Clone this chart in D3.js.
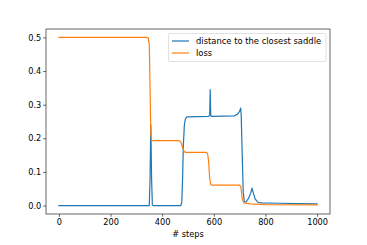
<!DOCTYPE html>
<html>
<head>
<meta charset="utf-8">
<script src="https://cdn.jsdelivr.net/npm/d3@7"></script>
<style>
  body { margin: 0; background: #fff; }
  text { font-family: "DejaVu Sans", sans-serif; fill: #000; }
</style>
</head>
<body>
<div id="chart"></div>
<script>
// datos
var distSteps = [0, 350, 353, 356, 359, 362, 365, 472, 476, 479, 482, 486, 490, 496, 580, 584, 586, 588, 590, 680, 692, 700, 704, 706, 710, 714, 718, 724, 735, 744, 748, 752, 760, 770, 785, 850, 1000];
var distValues = [0, 0, 0.08, 0.24, 0.08, 0.002, 0, 0, 0.01, 0.08, 0.18, 0.24, 0.258, 0.264, 0.265, 0.27, 0.345, 0.27, 0.265, 0.267, 0.272, 0.28, 0.29, 0.27, 0.15, 0.04, 0.012, 0.01, 0.022, 0.04, 0.052, 0.04, 0.02, 0.01, 0.008, 0.007, 0.005];

var lossSteps = [0, 340, 346, 350, 353, 356, 359, 362, 465, 472, 478, 484, 490, 570, 576, 580, 584, 588, 592, 700, 705, 710, 716, 740, 800, 1000];
var lossValues = [0.5, 0.5, 0.498, 0.48, 0.35, 0.21, 0.195, 0.193, 0.193, 0.19, 0.175, 0.162, 0.158, 0.158, 0.155, 0.13, 0.08, 0.063, 0.061, 0.061, 0.055, 0.02, 0.008, 0.005, 0.003, 0.002];

var xTicks = [0, 200, 400, 600, 800, 1000];
var yTicks = [0.0, 0.1, 0.2, 0.3, 0.4, 0.5];

var seriesNames = ["distance to the closest saddle", "loss"];
var colores = ["#1f77b4", "#ff7f0e"];

var width = 367, height = 245;
var mLeft = 46, mRight = 330, mTop = 29, mBottom = 214;

var xScale = d3.scaleLinear().domain([-50, 1050]).range([mLeft, mRight]);
var yScale = d3.scaleLinear().domain([-0.025, 0.525]).range([mBottom, mTop]);

var svg = d3.select("#chart").append("svg")
  .attr("width", width)
  .attr("height", height);

var line = d3.line()
  .x(d => xScale(d[0]))
  .y(d => yScale(d[1]));

var series = [
  d3.zip(distSteps, distValues),
  d3.zip(lossSteps, lossValues)
];

svg.append("g").selectAll("path")
  .data(series).enter()
  .append("path")
  .attr("d", d => line(d))
  .attr("fill", "none")
  .attr("stroke", (d, i) => colores[i])
  .attr("stroke-width", 1.2)
  .attr("stroke-linejoin", "round")
  .attr("stroke-linecap", "square");

/* ejes */
var xAxis = d3.axisBottom(xScale).tickValues(xTicks).tickSize(2.8).tickPadding(2).tickFormat(d3.format("d"));
var yAxis = d3.axisLeft(yScale).tickValues(yTicks).tickSize(2.8).tickPadding(2).tickFormat(d3.format(".1f"));

var gx = svg.append("g")
  .attr("transform", `translate(0, ${mBottom})`)
  .call(xAxis);
var gy = svg.append("g")
  .attr("transform", `translate(${mLeft}, 0)`)
  .call(yAxis);

[gx, gy].forEach(function (g) {
  g.select(".domain").remove();
  g.selectAll("line").attr("stroke", "#000").attr("stroke-width", 0.6);
  g.selectAll("text").style("font-size", "8.2px").attr("fill", "#000")
    .attr("font-family", "DejaVu Sans");
});

svg.append("rect")
  .attr("x", mLeft).attr("y", mTop)
  .attr("width", mRight - mLeft).attr("height", mBottom - mTop)
  .attr("fill", "none")
  .attr("stroke", "#000")
  .attr("stroke-width", 0.6);

svg.append("text")
  .attr("x", (mLeft + mRight) / 2)
  .attr("y", 237)
  .attr("text-anchor", "middle")
  .style("font-size", "8.2px")
  .text("# steps");

/* leyenda */
var legend = svg.append("g");
legend.append("rect")
  .attr("x", 168.5).attr("y", 33.5)
  .attr("width", 157.5).attr("height", 28)
  .attr("rx", 1.5)
  .attr("fill", "#fff").attr("fill-opacity", 0.8)
  .attr("stroke", "#ccc").attr("stroke-width", 0.6);

var items = legend.selectAll(".item")
  .data(seriesNames).enter()
  .append("g")
  .attr("transform", (d, i) => `translate(0, ${41 + i * 12})`);

items.append("line")
  .attr("x1", 172).attr("x2", 189)
  .attr("stroke", (d, i) => colores[i])
  .attr("stroke-width", 1.2);

items.append("text")
  .attr("x", 196)
  .attr("y", 3)
  .style("font-size", "8.4px")
  .text(d => d);
</script>
</body>
</html>
